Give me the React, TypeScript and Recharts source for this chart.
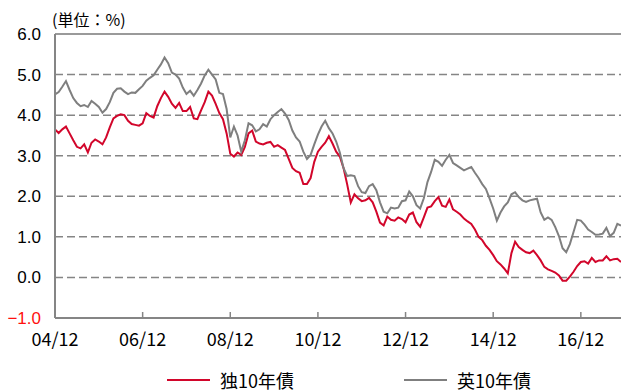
import React from 'react';
import { LineChart, Line, XAxis, YAxis, CartesianGrid, ReferenceLine } from 'recharts';

// monthly readings, Dec 2004 .. Nov 2017 (%)
const deYield = [
  3.65,
  3.56, 3.65, 3.72, 3.55, 3.38, 3.22, 3.18, 3.28, 3.08, 3.32, 3.40, 3.35,
  3.28, 3.45, 3.70, 3.92, 3.98, 4.02, 4.00, 3.86, 3.78, 3.76, 3.74, 3.80,
  4.05, 3.98, 3.94, 4.22, 4.42, 4.58, 4.45, 4.28, 4.18, 4.30, 4.10, 4.10,
  4.20, 3.92, 3.90, 4.12, 4.32, 4.58, 4.48, 4.28, 4.05, 3.90, 3.55, 3.05,
  2.98, 3.08, 3.02, 3.22, 3.55, 3.62, 3.35, 3.30, 3.28, 3.32, 3.34, 3.22,
  3.26, 3.20, 3.14, 2.92, 2.70, 2.62, 2.58, 2.30, 2.30, 2.45, 2.85, 3.10,
  3.22, 3.32, 3.48, 3.30, 3.10, 2.98, 2.70, 2.30, 1.85, 2.05, 1.95, 1.88,
  1.90, 1.96, 1.85, 1.62, 1.35, 1.28, 1.50, 1.42, 1.40, 1.48, 1.44, 1.36,
  1.55, 1.60, 1.36, 1.25, 1.48, 1.72, 1.75, 1.88, 1.98, 1.77, 1.74, 1.92,
  1.68, 1.62, 1.55, 1.45, 1.38, 1.32, 1.18, 1.00, 0.92, 0.78, 0.68, 0.55,
  0.40, 0.32, 0.22, 0.10, 0.60, 0.88, 0.75, 0.68, 0.62, 0.60, 0.66, 0.55,
  0.42, 0.26, 0.20, 0.16, 0.12, 0.05, -0.08, -0.08, 0.02, 0.14, 0.28, 0.38,
  0.40, 0.34, 0.48, 0.38, 0.42, 0.42, 0.52, 0.42, 0.45, 0.46, 0.38,
];

const ukYield = [
  4.51,
  4.57, 4.70, 4.84, 4.62, 4.42, 4.30, 4.22, 4.25, 4.20, 4.35, 4.28, 4.20,
  4.06, 4.15, 4.32, 4.55, 4.65, 4.66, 4.58, 4.52, 4.56, 4.55, 4.64, 4.72,
  4.85, 4.92, 4.98, 5.12, 5.25, 5.42, 5.28, 5.05, 5.00, 4.90, 4.68, 4.52,
  4.60, 4.48, 4.62, 4.78, 4.98, 5.12, 5.00, 4.88, 4.55, 4.52, 4.15, 3.45,
  3.72, 3.50, 3.10, 3.38, 3.80, 3.75, 3.60, 3.65, 3.78, 3.72, 3.90, 4.00,
  4.08, 4.15, 4.04, 3.88, 3.62, 3.45, 3.35, 3.10, 2.92, 3.02, 3.28, 3.52,
  3.72, 3.86, 3.68, 3.55, 3.35, 3.08, 2.70, 2.50, 2.52, 2.50, 2.25, 2.10,
  2.08, 2.25, 2.30, 2.15, 1.85, 1.62, 1.58, 1.72, 1.70, 1.72, 1.88, 1.90,
  2.12, 2.00, 1.78, 1.70, 1.95, 2.35, 2.60, 2.90, 2.85, 2.75, 2.90, 3.02,
  2.82, 2.76, 2.70, 2.64, 2.68, 2.72, 2.58, 2.45, 2.30, 2.18, 1.95, 1.70,
  1.40, 1.60, 1.75, 1.85, 2.05, 2.10, 1.98, 1.90, 1.86, 1.90, 1.92, 1.94,
  1.60, 1.42, 1.48, 1.42, 1.24, 1.02, 0.72, 0.62, 0.82, 1.12, 1.42, 1.40,
  1.30, 1.18, 1.12, 1.05, 1.06, 1.08, 1.22, 1.02, 1.10, 1.32, 1.28,
];

const xTicks = ['04/12', '06/12', '08/12', '10/12', '12/12', '14/12', '16/12'];
const yTicks = [-1, 0, 1, 2, 3, 4, 5, 6];

// month labels yy/mm starting Dec 2004
const months = deYield.map((_, i) => {
  const total = 2004 * 12 + 11 + i;
  const yy = String(Math.floor(total / 12) % 100).padStart(2, '0');
  const mm = String((total % 12) + 1).padStart(2, '0');
  return `${yy}/${mm}`;
});

const data = months.map((month, i) => ({ month, de: deYield[i], uk: ukYield[i] }));

const RED = '#D2062B';
const GRAY = '#7F7F7F';
const AXIS = '#858585';

function XTick({ x, y, payload }: any) {
  return (
    <g>
      {payload.value !== '04/12' && (
        <line x1={x} x2={x} y1={y - 6} y2={y} stroke={AXIS} strokeWidth={1.5} />
      )}
      <text x={x} y={y + 28} textAnchor="middle" fontSize={18} fill="#000"
        fontFamily="'Noto Sans CJK JP', sans-serif">
        {payload.value}
      </text>
    </g>
  );
}

function YTick({ x, y, payload }: any) {
  const v: number = payload.value;
  const label = v < 0 ? `\u2212${Math.abs(v).toFixed(1)}` : v.toFixed(1);
  return (
    <text x={x} y={y} dy={6} textAnchor="end" fontSize={17} fill={v < 0 ? '#FF1010' : '#000'}
      fontFamily="Arial, 'Liberation Sans', sans-serif">
      {label}
    </text>
  );
}

function LegendItem({ color, text, left }: { color: string; text: string; left: number }) {
  return (
    <div style={{ position: 'absolute', left, top: 0, height: 22, display: 'flex', alignItems: 'center', whiteSpace: 'nowrap' }}>
      <div style={{ width: 43, height: 2, background: color, marginRight: 10 }} />
      <span style={{ fontSize: 18, fontFamily: "'Noto Sans CJK JP', sans-serif", color: '#000', lineHeight: '22px' }}>
        {text}
      </span>
    </div>
  );
}

export default function App() {
  return (
    <div style={{ position: 'absolute', left: 0, top: 0, width: 621, height: 392, background: '#fff', overflow: 'hidden' }}>
      <div style={{
        position: 'absolute', left: 52, top: 8, fontSize: 16, lineHeight: '22px',
        fontFamily: "'Noto Sans CJK JP', sans-serif", color: '#000',
      }}>
        (単位：%)
      </div>
      <LineChart width={621} height={392} data={data}
        margin={{ top: 34, right: 0, left: 0, bottom: 44 }}>
        <CartesianGrid vertical={false} stroke={AXIS} strokeWidth={1.5} strokeDasharray="8 4" />
        <ReferenceLine y={6} stroke="#9a9a9a" strokeWidth={2} />
        <XAxis dataKey="month" ticks={xTicks} interval={0} height={30}
          tickSize={0} tickMargin={0} tick={<XTick />}
          axisLine={{ stroke: AXIS, strokeWidth: 2 }} tickLine={false} />
        <YAxis type="number" domain={[-1, 6]} ticks={yTicks} width={55}
          tickSize={0} tickMargin={14} tick={<YTick />}
          axisLine={{ stroke: AXIS, strokeWidth: 2 }} tickLine={false} />
        <Line dataKey="de" name="独10年債" stroke={RED} strokeWidth={2} dot={false} isAnimationActive={false} />
        <Line dataKey="uk" name="英10年債" stroke={GRAY} strokeWidth={2} dot={false} isAnimationActive={false} />
      </LineChart>
      <div style={{ position: 'absolute', left: 0, top: 369, width: 621, height: 22 }}>
        <LegendItem color={RED} text="独10年債" left={167} />
        <LegendItem color={GRAY} text="英10年債" left={404} />
      </div>
    </div>
  );
}
